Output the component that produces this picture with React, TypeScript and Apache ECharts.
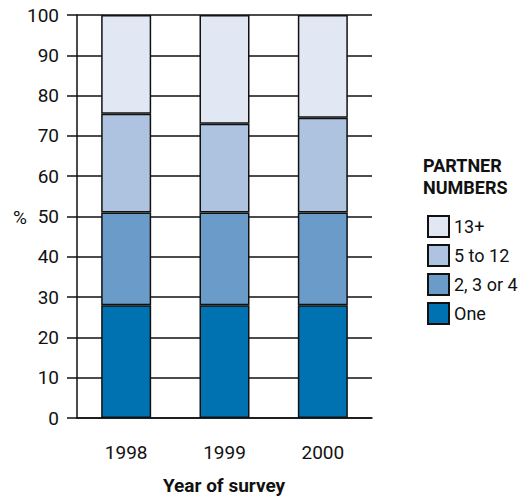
import React, { useEffect, useRef } from "react";
import * as echarts from "echarts";

const years = ["1998", "1999", "2000"];
const one = [28, 28, 28];
const twoToFour = [23, 23, 23];
const fiveToTwelve = [24.5, 22, 23.5];
const thirteenPlus = [24.5, 27, 25.5];
const yTicks = { min: 0, max: 100, interval: 10 };

const FONT = "Roboto, 'Liberation Sans', sans-serif";

export default function App() {
  const ref = useRef<HTMLDivElement>(null);
  useEffect(() => {
    if (!ref.current) return;
    const chart = echarts.init(ref.current, undefined, { renderer: "svg" });
    const border = { borderColor: "#111", borderWidth: 1.5 };
    const mk = (name: string, data: number[], color: string) => ({
      name,
      type: "bar",
      stack: "total",
      data,
      barWidth: 50,
      itemStyle: { color, ...border },
    });
    chart.setOption({
      animation: false,
      textStyle: { fontFamily: FONT },
      grid: { left: 77, right: 150, top: 15, bottom: 79 },
      xAxis: {
        type: "category",
        data: years,
        axisLine: { lineStyle: { color: "#111", width: 1.5 } },
        axisTick: { alignWithLabel: true, length: 14, lineStyle: { color: "#111", width: 1.5 } },
        axisLabel: { color: "#111", fontSize: 19, margin: 25, fontFamily: FONT },
      },
      yAxis: {
        type: "value",
        min: yTicks.min,
        max: yTicks.max,
        interval: yTicks.interval,
        axisLine: { show: true, lineStyle: { color: "#111", width: 1.5 } },
        axisTick: { show: true, length: 10, lineStyle: { color: "#111", width: 1.5 } },
        axisLabel: { color: "#111", fontSize: 19, margin: 18, fontFamily: FONT },
        splitLine: { show: true, lineStyle: { color: "#111", width: 1.5 } },
      },
      legend: {
        orient: "vertical",
        left: 422,
        top: 210,
        itemWidth: 21,
        itemHeight: 21,
        itemGap: 6,
        icon: "rect",
        textStyle: { color: "#111", fontSize: 18, fontFamily: FONT },
        data: ["13+", "5 to 12", "2, 3 or 4", "One"],
      },
      graphic: [
        {
          type: "text",
          left: 423,
          top: 154,
          style: {
            text: "PARTNER\nNUMBERS",
            fontSize: 18,
            fontWeight: "bold",
            lineHeight: 22,
            fill: "#111",
            fontFamily: FONT,
          },
        },
        {
          type: "text",
          x: 20,
          y: 217,
          style: {
            text: "%",
            fontSize: 19,
            fill: "#111",
            fontFamily: FONT,
            textAlign: "center",
            textVerticalAlign: "middle",
          },
        },
        {
          type: "text",
          x: 224,
          y: 485,
          style: {
            text: "Year of survey",
            fontSize: 19,
            fontWeight: "bold",
            fill: "#111",
            fontFamily: FONT,
            textAlign: "center",
            textVerticalAlign: "middle",
          },
        },
      ],
      series: [
        mk("One", one, "#0072b2"),
        mk("2, 3 or 4", twoToFour, "#6b9bc9"),
        mk("5 to 12", fiveToTwelve, "#aec3e0"),
        mk("13+", thirteenPlus, "#e2e8f3"),
      ],
    });
    return () => chart.dispose();
  }, []);
  return (
    <div
      ref={ref}
      style={{ position: "fixed", left: 0, top: 0, width: 522, height: 497, background: "#fff" }}
    />
  );
}
